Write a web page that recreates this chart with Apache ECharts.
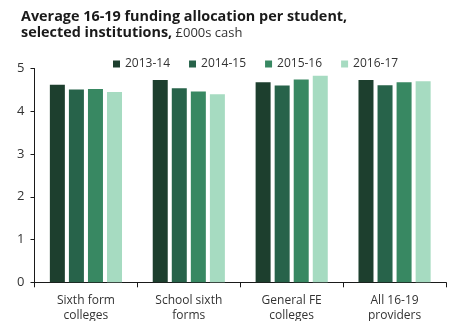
<!DOCTYPE html>
<html>
<head>
<meta charset="utf-8">
<script src="https://cdn.jsdelivr.net/npm/echarts@6/dist/echarts.min.js"></script>
<style>
  html, body { margin: 0; padding: 0; background: #fff; }
  #chart { width: 449px; height: 321px; }
</style>
</head>
<body>
<div id="chart"></div>
<script>
// Institution types along the x axis
const categories = ['Sixth form\ncolleges', 'School sixth\nforms', 'General FE\ncolleges', 'All 16-19\nproviders'];
// Academic years shown as series
const years = ['2013-14', '2014-15', '2015-16', '2016-17'];
// Average funding per student, £000s cash
const funding1314 = [4.62, 4.73, 4.68, 4.73];
const funding1415 = [4.51, 4.54, 4.60, 4.61];
const funding1516 = [4.52, 4.46, 4.74, 4.68];
const funding1617 = [4.45, 4.40, 4.83, 4.70];
const yTicks = [0, 1, 2, 3, 4, 5];

const seriesValues = [funding1314, funding1415, funding1516, funding1617];
const colors = ['#1d3f2e', '#27634a', '#388862', '#a6dbc1'];
const font = '"Open Sans", "Noto Sans", sans-serif';

const chart = echarts.init(document.getElementById('chart'), null, { renderer: 'canvas' });

chart.setOption({
  animation: false,
  backgroundColor: '#ffffff',
  color: colors,
  title: {
    left: 16,
    top: 4,
    text: '{b|Average 16-19 funding allocation per student,}\n{b|selected institutions,}{n| £000s cash}',
    textStyle: {
      rich: {
        b: { fontFamily: font, fontSize: 14.4, fontWeight: 'bold', color: '#1a1a1a', lineHeight: 16 },
        n: { fontFamily: font, fontSize: 13, fontWeight: 'normal', color: '#333333', lineHeight: 16 }
      }
    }
  },
  legend: {
    left: 108,
    top: 53,
    itemWidth: 7,
    itemHeight: 7,
    itemGap: 19,
    icon: 'rect',
    data: years,
    textStyle: { fontFamily: font, fontSize: 12, color: '#333333' }
  },
  grid: {
    left: 34.5,
    right: 3,
    top: 68.5,
    bottom: 38.7,
    containLabel: false,
    outerBoundsMode: 'none'
  },
  xAxis: {
    type: 'category',
    data: categories,
    axisLine: { show: true, lineStyle: { color: '#1a1a1a', width: 1 } },
    axisTick: { show: true, alignWithLabel: false, length: 5, lineStyle: { color: '#1a1a1a' } },
    axisLabel: {
      interval: 0,
      margin: 11,
      lineHeight: 15,
      fontFamily: font,
      fontSize: 12,
      color: '#333333'
    }
  },
  yAxis: {
    type: 'value',
    min: yTicks[0],
    max: yTicks[yTicks.length - 1],
    interval: 1,
    splitLine: { show: false },
    axisLine: { show: true, lineStyle: { color: '#1a1a1a', width: 1 } },
    axisTick: { show: true, length: 4, lineStyle: { color: '#1a1a1a' } },
    axisLabel: {
      margin: 10,
      fontFamily: font,
      fontSize: 13,
      color: '#333333'
    }
  },
  series: years.map((y, i) => ({
    name: y,
    type: 'bar',
    data: seriesValues[i],
    barWidth: 15,
    barGap: '27%',
    itemStyle: { color: colors[i] }
  }))
});
</script>
</body>
</html>
